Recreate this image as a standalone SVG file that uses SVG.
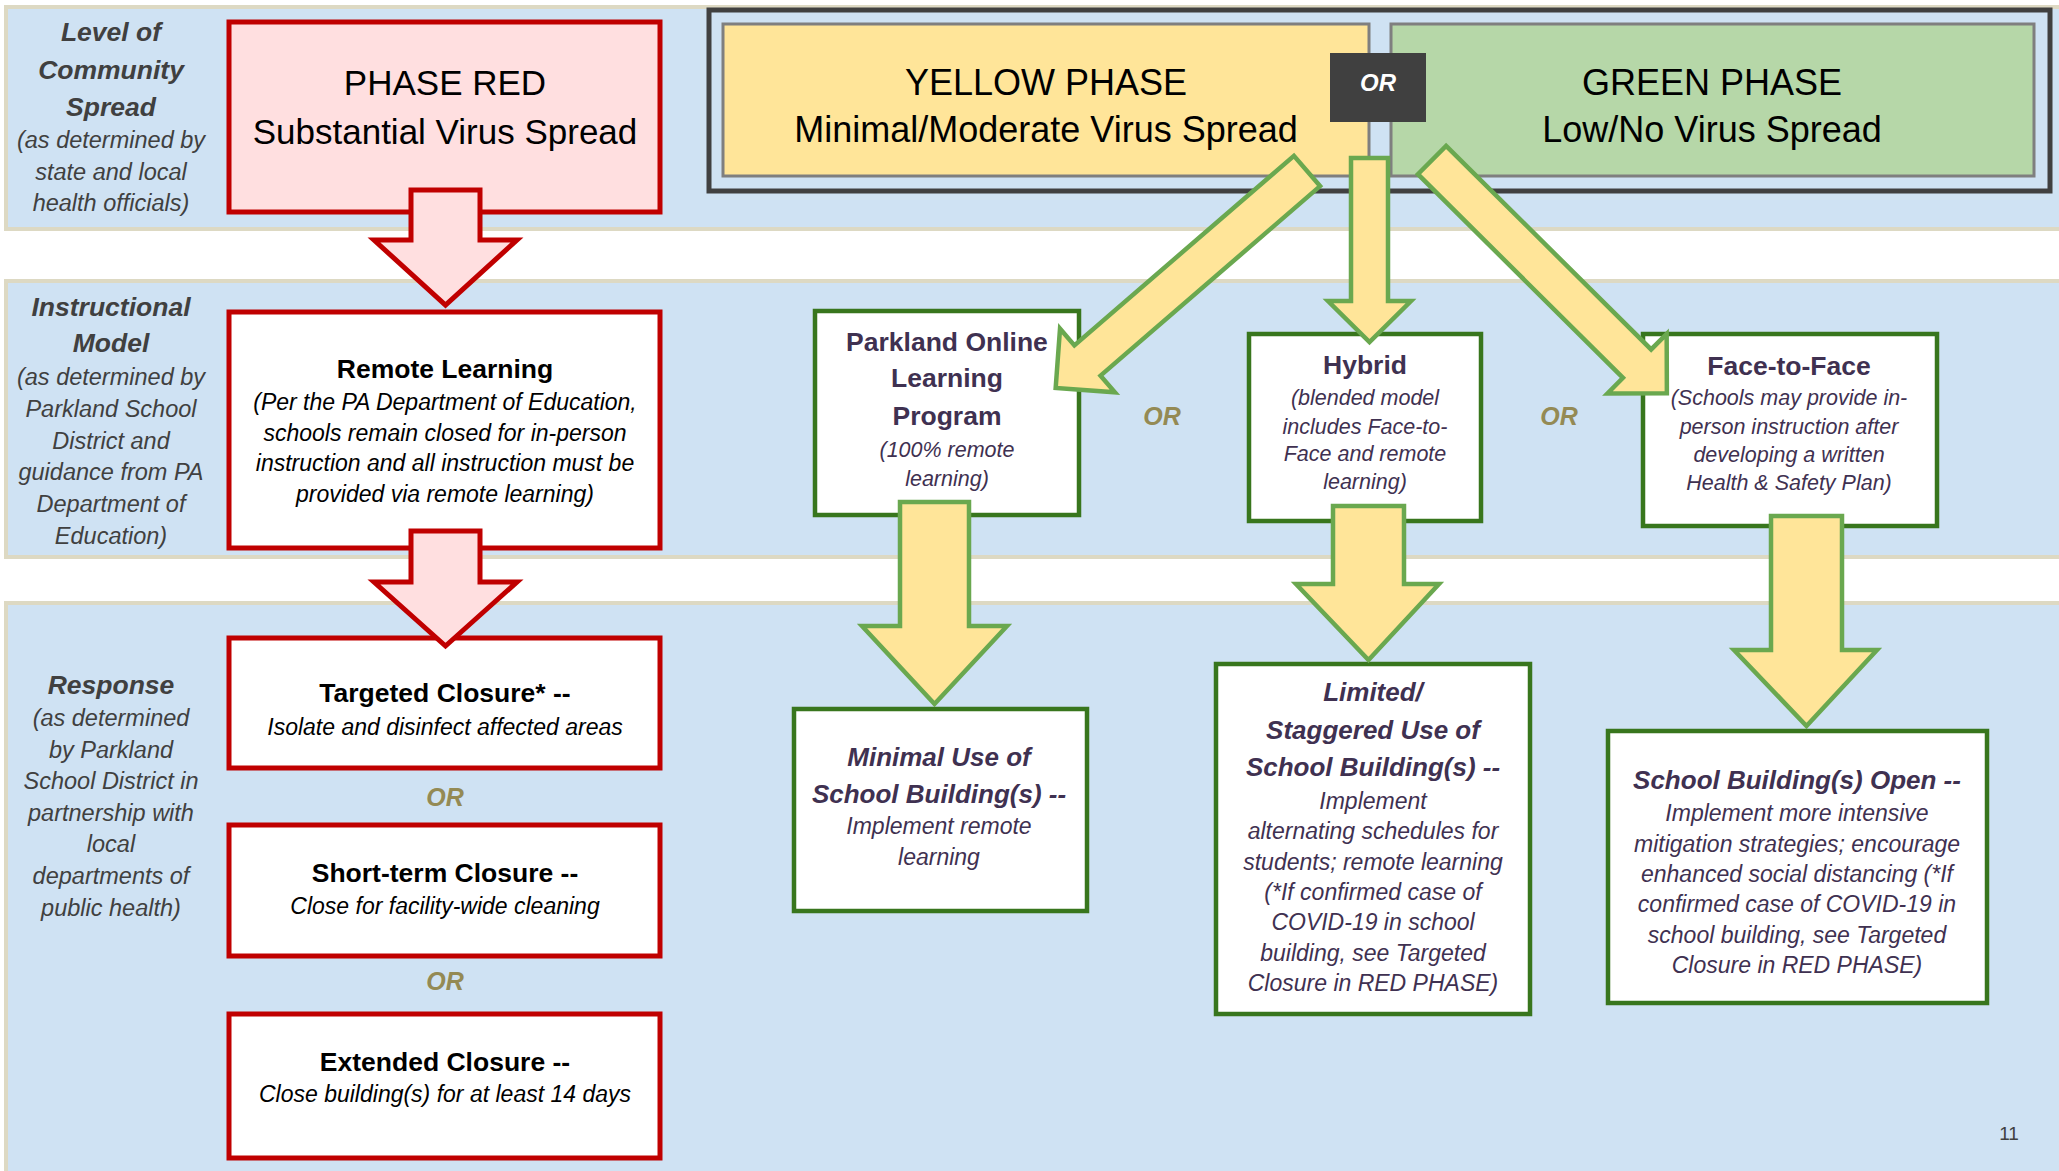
<svg xmlns="http://www.w3.org/2000/svg" width="2059" height="1171" viewBox="0 0 2059 1171">
<style>
text{font-family:"Liberation Sans",Arial,sans-serif;text-anchor:middle}
.band{fill:#CFE2F3;stroke:#DDD9C3;stroke-width:4}
.lt{font-size:26.5px;font-style:italic;font-weight:bold;fill:#404040}
.lb{font-size:23.5px;font-style:italic;fill:#404040}
.rbox{fill:#FFFFFF;stroke:#C00000;stroke-width:5}
.rarrow{fill:#FFDFE0;stroke:#C00000;stroke-width:5}
.gbox{fill:#FFFFFF;stroke:#38761D;stroke-width:4.5}
.yarrow{fill:#FFE599;stroke:#6AA84F;stroke-width:4.5}
.phase{font-size:36px;fill:#000}
.rt{font-size:26.5px;font-weight:bold;fill:#000}
.rb{font-size:23px;font-style:italic;fill:#000}
.or{font-size:25px;font-style:italic;font-weight:bold;fill:#948A54}
.gt{font-size:26.5px;font-weight:bold;fill:#3F3151}
.gb{font-size:21.5px;font-style:italic;fill:#3F3151}
.st{font-size:26px;font-weight:bold;font-style:italic;fill:#3F3151}
.sb{font-size:23px;font-style:italic;fill:#3F3151}
</style>
<rect width="2059" height="1171" fill="#FFFFFF"/>
<g id="bands">
<rect class="band" x="6" y="7" width="2070" height="222"/>
<rect class="band" x="6" y="281" width="2070" height="276"/>
<rect class="band" x="6" y="603" width="2070" height="600"/>
</g>
<g id="label-community">
<text class="lt" x="111" y="41">Level of</text>
<text class="lt" x="111" y="79">Community</text>
<text class="lt" x="111" y="116">Spread</text>
<text class="lb" x="111" y="148">(as determined by</text>
<text class="lb" x="111" y="180">state and local</text>
<text class="lb" x="111" y="211">health officials)</text>
</g>
<g id="label-instructional">
<text class="lt" x="111" y="316">Instructional</text>
<text class="lt" x="111" y="352">Model</text>
<text class="lb" x="111" y="385">(as determined by</text>
<text class="lb" x="111" y="417">Parkland School</text>
<text class="lb" x="111" y="449">District and</text>
<text class="lb" x="111" y="480">guidance from PA</text>
<text class="lb" x="111" y="512">Department of</text>
<text class="lb" x="111" y="544">Education)</text>
</g>
<g id="label-response">
<text class="lt" x="111" y="694">Response</text>
<text class="lb" x="111" y="726">(as determined</text>
<text class="lb" x="111" y="758">by Parkland</text>
<text class="lb" x="111" y="789">School District in</text>
<text class="lb" x="111" y="821">partnership with</text>
<text class="lb" x="111" y="852">local</text>
<text class="lb" x="111" y="884">departments of</text>
<text class="lb" x="111" y="916">public health)</text>
</g>
<g id="phase-frame">
<rect x="709" y="10" width="1341" height="181" fill="#CFE2F3" stroke="#404040" stroke-width="5"/>
</g>
<g id="yellow-phase">
<rect x="723" y="24" width="646" height="152" fill="#FFE599" stroke="#7F7F7F" stroke-width="3"/>
<text class="phase" x="1046" y="95">YELLOW PHASE</text>
<text class="phase" x="1046" y="142">Minimal/Moderate Virus Spread</text>
</g>
<g id="green-phase">
<rect x="1391" y="24" width="643" height="152" fill="#B6D7A8" stroke="#7F7F7F" stroke-width="3"/>
<text class="phase" x="1712" y="95">GREEN PHASE</text>
<text class="phase" x="1712" y="142">Low/No Virus Spread</text>
</g>
<g id="or-top">
<rect x="1330" y="53" width="96" height="69" fill="#404040"/>
<text x="1378" y="91" style="font-size:24px;font-style:italic;font-weight:bold;fill:#FFFFFF">OR</text>
</g>
<g id="phase-red">
<rect x="229" y="22" width="431" height="190" fill="#FFDFE0" stroke="#C00000" stroke-width="5"/>
<text class="phase" x="445" y="95" style="font-size:35px">PHASE RED</text>
<text class="phase" x="445" y="144" style="font-size:35px">Substantial Virus Spread</text>
</g>
<g id="remote-learning">
<rect class="rbox" x="229" y="312" width="431" height="236"/>
<text class="rt" x="445" y="378">Remote Learning</text>
<text class="rb" x="445" y="410">(Per the PA Department of Education,</text>
<text class="rb" x="445" y="441">schools remain closed for in-person</text>
<text class="rb" x="445" y="471">instruction and all instruction must be</text>
<text class="rb" x="445" y="502">provided via remote learning)</text>
</g>
<g id="targeted-closure">
<rect class="rbox" x="229" y="638" width="431" height="130"/>
<text class="rt" x="445" y="702">Targeted Closure* --</text>
<text class="rb" x="445" y="735">Isolate and disinfect affected areas</text>
</g>
<text class="or" x="445" y="806">OR</text>
<g id="short-term-closure">
<rect class="rbox" x="229" y="825" width="431" height="131"/>
<text class="rt" x="445" y="882">Short-term Closure --</text>
<text class="rb" x="445" y="914">Close for facility-wide cleaning</text>
</g>
<text class="or" x="445" y="990">OR</text>
<g id="extended-closure">
<rect class="rbox" x="229" y="1014" width="431" height="144"/>
<text class="rt" x="445" y="1071">Extended Closure --</text>
<text class="rb" x="445" y="1102">Close building(s) for at least 14 days</text>
</g>
<g id="parkland-online">
<rect class="gbox" x="815" y="311" width="264" height="204"/>
<text class="gt" x="947" y="351">Parkland Online</text>
<text class="gt" x="947" y="387">Learning</text>
<text class="gt" x="947" y="425">Program</text>
<text class="gb" x="947" y="457">(100% remote</text>
<text class="gb" x="947" y="486">learning)</text>
</g>
<text class="or" x="1162" y="425">OR</text>
<g id="hybrid">
<rect class="gbox" x="1249" y="334" width="232" height="187"/>
<text class="gt" x="1365" y="374">Hybrid</text>
<text class="gb" x="1365" y="405">(blended model</text>
<text class="gb" x="1365" y="434">includes Face-to-</text>
<text class="gb" x="1365" y="461">Face and remote</text>
<text class="gb" x="1365" y="489">learning)</text>
</g>
<text class="or" x="1559" y="425">OR</text>
<g id="face-to-face">
<rect class="gbox" x="1643" y="334" width="294" height="192"/>
<text class="gt" x="1789" y="375">Face-to-Face</text>
<text class="gb" x="1789" y="405">(Schools may provide in-</text>
<text class="gb" x="1789" y="434">person instruction after</text>
<text class="gb" x="1789" y="462">developing a written</text>
<text class="gb" x="1789" y="490">Health &amp; Safety Plan)</text>
</g>
<g id="minimal-use">
<rect class="gbox" x="794" y="709" width="293" height="202"/>
<text class="st" x="939" y="766">Minimal Use of</text>
<text class="st" x="939" y="803">School Building(s) --</text>
<text class="sb" x="939" y="834">Implement remote</text>
<text class="sb" x="939" y="865">learning</text>
</g>
<g id="limited-use">
<rect class="gbox" x="1216" y="664" width="314" height="350"/>
<text class="st" x="1373" y="701">Limited/</text>
<text class="st" x="1373" y="739">Staggered Use of</text>
<text class="st" x="1373" y="776">School Building(s) --</text>
<text class="sb" x="1373" y="809">Implement</text>
<text class="sb" x="1373" y="839">alternating schedules for</text>
<text class="sb" x="1373" y="870">students; remote learning</text>
<text class="sb" x="1373" y="900">(*If confirmed case of</text>
<text class="sb" x="1373" y="930">COVID-19 in school</text>
<text class="sb" x="1373" y="961">building, see Targeted</text>
<text class="sb" x="1373" y="991">Closure in RED PHASE)</text>
</g>
<g id="buildings-open">
<rect class="gbox" x="1608" y="731" width="379" height="272"/>
<text class="st" x="1797" y="789">School Building(s) Open --</text>
<text class="sb" x="1797" y="821">Implement more intensive</text>
<text class="sb" x="1797" y="852">mitigation strategies; encourage</text>
<text class="sb" x="1797" y="882">enhanced social distancing (*If</text>
<text class="sb" x="1797" y="912">confirmed case of COVID-19 in</text>
<text class="sb" x="1797" y="943">school building, see Targeted</text>
<text class="sb" x="1797" y="973">Closure in RED PHASE)</text>
</g>
<g id="connectors">
<polygon class="rarrow" points="411,190 480,190 480,240 517,240 445.5,305 374,240 411,240"/>
<polygon class="rarrow" points="411,531 480,531 480,582 517,582 445.5,646 374,582 411,582"/>
<polygon class="yarrow" points="1351,158 1388,158 1388,301 1411,301 1369.5,342 1328,301 1351,301"/>
<polygon class="yarrow" transform="translate(1307,171) rotate(139.2)" points="0,-20 290,-20 290,-42 332,0 290,42 290,20 0,20"/>
<polygon class="yarrow" transform="translate(1432,160) rotate(44.8)" points="0,-20 289,-20 289,-42 331,0 289,42 289,20 0,20"/>
<polygon class="yarrow" points="900,502 969,502 969,626 1007,626 934.5,704 862,626 900,626"/>
<polygon class="yarrow" points="1333,506 1404,506 1404,584 1439,584 1368.5,660 1296,584 1333,584"/>
<polygon class="yarrow" points="1771,516 1842,516 1842,650 1877,650 1806.5,726 1734,650 1771,650"/>
</g>
<text x="2009" y="1140" style="font-size:19px;fill:#404040">11</text>
</svg>
